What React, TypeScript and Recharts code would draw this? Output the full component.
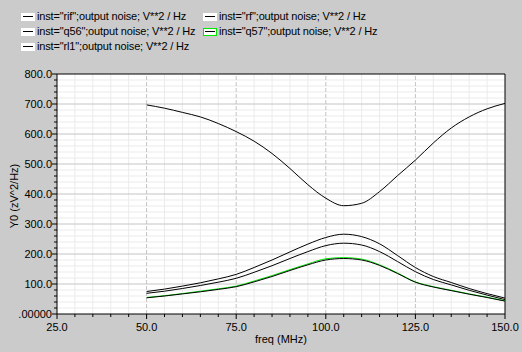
import React from "react";
import { LineChart, Line, XAxis, YAxis, ReferenceLine, ReferenceArea } from "recharts";

const freq = [50, 55, 60, 65, 70, 75, 80, 85, 90, 95, 100, 105, 110, 115, 120, 125, 130, 135, 140, 145, 150];
const rif = [697, 686, 672, 657, 635, 608, 576, 535, 485, 431, 386, 361, 369, 408, 461, 513, 570, 620, 657, 684, 702];
const rf = [75, 83, 93, 104, 117, 132, 155, 180, 207, 233, 255, 266, 258, 234, 195, 155, 125, 105, 85, 68, 53];
const rl1 = [69, 76, 85, 95, 106, 119, 139, 161, 185, 208, 228, 236, 230, 208, 175, 141, 115, 97, 79, 63, 48];
const q56 = [54, 60, 67, 74, 82, 91, 107, 125, 145, 164, 180, 185, 180, 162, 135, 106, 90, 78, 66, 55, 43];
const q57 = [55, 61, 68, 76, 84, 93, 110, 128, 148, 167, 184, 188, 183, 164, 137, 107, 91, 79, 67, 56, 44];

const xTicks = [25, 30, 35, 40, 45, 50, 55, 60, 65, 70, 75, 80, 85, 90, 95, 100, 105, 110, 115, 120, 125, 130, 135, 140, 145, 150];
const yTicks = [0, 20, 40, 60, 80, 100, 120, 140, 160, 180, 200, 220, 240, 260, 280, 300, 320, 340, 360, 380, 400, 420, 440, 460, 480, 500, 520, 540, 560, 580, 600, 620, 640, 660, 680, 700, 720, 740, 760, 780, 800];
const xMajor = [50, 75, 100, 125];
const yMajor = [100, 200, 300, 400, 500, 600, 700];

const legendItems = [
  { label: 'inst="rif";output noise; V**2 / Hz', col: 0, row: 0, green: false },
  { label: 'inst="rf";output noise; V**2 / Hz', col: 1, row: 0, green: false },
  { label: 'inst="q56";output noise; V**2 / Hz', col: 0, row: 1, green: false },
  { label: 'inst="q57";output noise; V**2 / Hz', col: 1, row: 1, green: true },
  { label: 'inst="rl1";output noise; V**2 / Hz', col: 0, row: 2, green: false },
];

const data = freq.map((f, i) => ({ f, rif: rif[i], rf: rf[i], rl1: rl1[i], q56: q56[i], q57: q57[i] }));

const FONT = "'Liberation Sans', Arial, sans-serif";
const GREEN = "#00e600";

const YTick = (props: any) => {
  const { x, y, payload } = props;
  const v = payload.value;
  const major = v % 100 === 0;
  const label = v === 0 ? ".00000" : v.toFixed(1);
  return (
    <g>
      <line x1={x - (major ? 5 : 3)} x2={x} y1={y} y2={y} stroke="#000" />
      {major && (
        <text x={x - 5} y={y + 4} textAnchor="end" fontSize={11} fontFamily={FONT} fill="#000">
          {label}
        </text>
      )}
    </g>
  );
};

const XTick = (props: any) => {
  const { x, y, payload } = props;
  const v = payload.value;
  const major = v % 25 === 0;
  return (
    <g>
      <line x1={x} x2={x} y1={y} y2={y + (major ? 5 : 3)} stroke="#000" />
      {major && (
        <text x={x} y={y + 17} textAnchor="middle" fontSize={11} fontFamily={FONT} fill="#000">
          {v.toFixed(1)}
        </text>
      )}
    </g>
  );
};

export default function App() {
  return (
    <div style={{ position: "fixed", left: 0, top: 0, width: 522, height: 352, background: "#cbcbcb", fontFamily: FONT }}>
      <LineChart width={522} height={352} data={data} margin={{ top: 74, right: 17, left: 0, bottom: 0 }}>
        <XAxis
          dataKey="f"
          type="number"
          domain={[25, 150]}
          ticks={xTicks}
          interval={0}
          tick={<XTick />}
          tickLine={false}
          tickSize={0}
          tickMargin={0}
          height={38}
          axisLine={{ stroke: "#000" }}
          allowDataOverflow
        />
        <YAxis
          type="number"
          domain={[0, 800]}
          ticks={yTicks}
          interval={0}
          tick={<YTick />}
          tickLine={false}
          tickSize={0}
          tickMargin={0}
          width={57}
          axisLine={{ stroke: "#000" }}
          allowDataOverflow
        />
        <ReferenceArea x1={25} x2={150} y1={0} y2={800} fill="#ffffff" fillOpacity={1} stroke="none" />
        {xTicks.filter((t) => t % 25 !== 0).map((t) => (
          <ReferenceLine key={"xm" + t} x={t} stroke="#ebebeb" />
        ))}
        {yTicks.filter((t) => t % 100 !== 0).map((t) => (
          <ReferenceLine key={"ym" + t} y={t} stroke="#ebebeb" />
        ))}
        {yMajor.map((t) => (
          <ReferenceLine key={"yM" + t} y={t} stroke="#c4c4c4" />
        ))}
        {xMajor.map((t) => (
          <ReferenceLine key={"xM" + t} x={t} stroke="#c4c4c4" strokeDasharray="4 2" />
        ))}
        <ReferenceLine y={800} stroke="#000" />
        <ReferenceLine x={150} stroke="#000" />
        <Line type="monotone" dataKey="rif" stroke="#000" strokeWidth={1} dot={false} isAnimationActive={false} />
        <Line type="monotone" dataKey="rf" stroke="#000" strokeWidth={1} dot={false} isAnimationActive={false} />
        <Line type="monotone" dataKey="rl1" stroke="#000" strokeWidth={1} dot={false} isAnimationActive={false} />
        <Line type="monotone" dataKey="q57" stroke={GREEN} strokeWidth={1} dot={false} isAnimationActive={false} />
        <Line type="monotone" dataKey="q56" stroke="#000" strokeWidth={1} dot={false} isAnimationActive={false} />
        <text x={281} y={343} textAnchor="middle" fontSize={11} fontFamily={FONT} fill="#000">
          freq (MHz)
        </text>
        <text x={18} y={196} textAnchor="middle" fontSize={11} fontFamily={FONT} fill="#000" transform="rotate(-90 18 196)">
          Y0 (zV^2/Hz)
        </text>
      </LineChart>
      {legendItems.map((it) => {
        const sx = it.col === 0 ? 21 : 203;
        const sy = 13 + it.row * 15;
        return (
          <div key={it.label}>
            <div
              style={{
                position: "absolute",
                left: sx,
                top: sy,
                width: 14,
                height: 8,
                background: "#fff",
                boxSizing: "border-box",
                border: it.green ? `1px solid ${GREEN}` : "none",
              }}
            />
            <div style={{ position: "absolute", left: sx + 2, top: sy + 3, width: 10, height: 1, background: "#000" }} />
            <div
              style={{
                position: "absolute",
                left: sx + 16,
                top: sy - 3,
                fontSize: 11,
                lineHeight: "13px",
                letterSpacing: "-0.15px",
                whiteSpace: "nowrap",
                color: "#000",
              }}
            >
              {it.label}
            </div>
          </div>
        );
      })}
    </div>
  );
}
